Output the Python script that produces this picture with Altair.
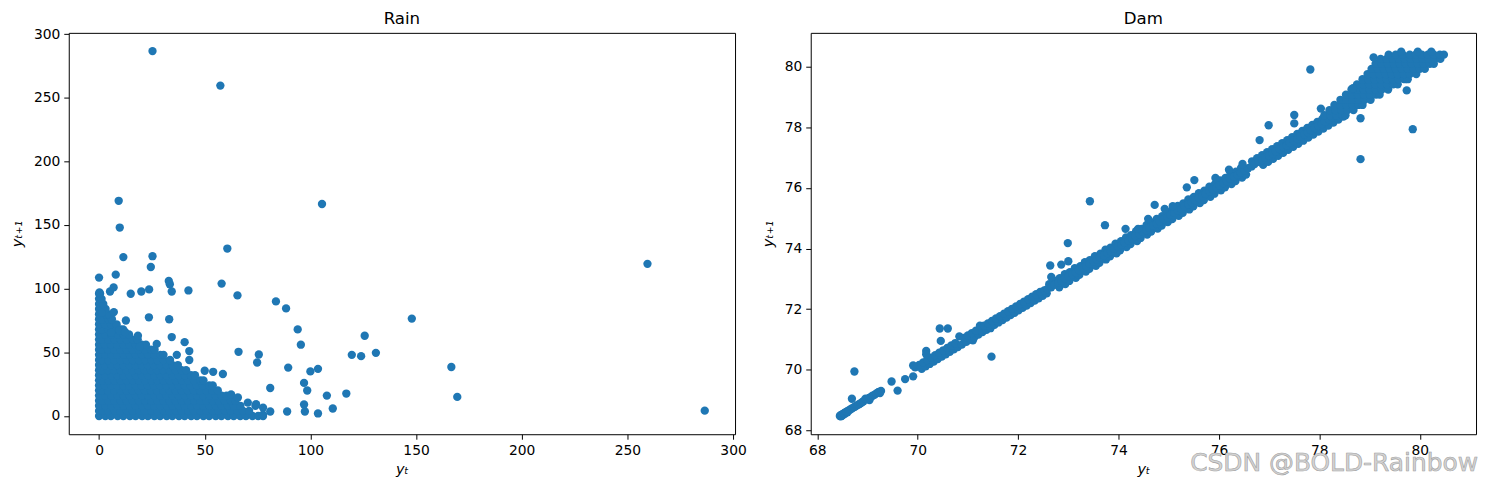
import altair as alt
import pandas as pd

FONT = "DejaVu Sans"
BLUE = "#1f77b4"

# ---------------- Rain lag plot ----------------
rain_ticks = [0, 50, 100, 150, 200, 250, 300]
rain_domain = [-14.33, 300.93]

# dense cluster, read row by row: y_{t+1} of the row, and the y_t values on it
rain_row_y = [0, 4, 8, 12, 16, 20, 24, 28, 32, 36, 40, 44, 48, 52, 56, 60,
              64, 68, 72, 76, 80, 84, 88, 92, 96]
rain_row_x = [
    [0, 3.0, 5.6, 8.8, 11.5, 14.6, 17.3, 20.4, 23.1, 26.2, 28.9, 32.0, 34.7, 37.8, 40.5, 43.6,
     46.3, 49.4, 52.1, 55.2, 57.9, 61.0, 63.7, 66.8, 69.5, 72.6, 75.3, 77.6],
    [0, 1.6, 4.3, 7.4, 10.1, 13.2, 15.9, 19.0, 21.7, 24.8, 27.5, 30.6, 33.3, 36.4, 39.1, 42.2,
     44.9, 48.0, 50.7, 53.8, 56.5, 59.6, 62.3, 65.4, 68.1, 71.0],
    [0, 3.0, 5.8, 8.8, 11.6, 14.6, 17.4, 20.4, 23.2, 26.2, 29.0, 32.0, 34.8, 37.8, 40.6, 43.6,
     46.4, 49.4, 52.2, 55.2, 58.0, 61.0, 63.8, 66.9],
    [0, 1.5, 4.4, 7.3, 10.2, 13.1, 16.0, 18.9, 21.8, 24.7, 27.6, 30.5, 33.4, 36.3, 39.2, 42.1,
     45.0, 47.9, 50.8, 53.7, 56.6, 59.5, 62.4, 64.5],
    [0, 2.9, 5.8, 8.7, 11.6, 14.5, 17.4, 20.3, 23.2, 26.1, 29.0, 31.9, 34.8, 37.7, 40.6, 43.5,
     46.4, 49.3, 52.2, 55.1, 58.0, 60.3],
    [0, 1.4, 4.3, 7.2, 10.1, 13.0, 15.9, 18.8, 21.7, 24.6, 27.5, 30.4, 33.3, 36.2, 39.1, 42.0,
     44.9, 47.8, 50.7, 53.6, 56.2],
    [0, 2.8, 5.7, 8.6, 11.5, 14.4, 17.3, 20.2, 23.1, 26.0, 28.9, 31.8, 34.7, 37.6, 40.5, 43.4,
     46.3, 49.2, 52.1, 53.8],
    [0, 1.5, 4.4, 7.3, 10.2, 13.1, 16.0, 18.9, 21.8, 24.7, 27.6, 30.5, 33.4, 36.3, 39.2, 42.1,
     45.0, 47.9, 49.4],
    [0, 2.9, 5.8, 8.7, 11.6, 14.5, 17.4, 20.3, 23.2, 26.1, 29.0, 31.9, 34.8, 37.7, 40.6, 43.5, 45.4],
    [0, 1.4, 4.3, 7.2, 10.1, 13.0, 15.9, 18.8, 21.7, 24.6, 27.5, 30.4, 33.3, 36.2, 39.1, 41.2],
    [0, 2.8, 5.7, 8.6, 11.5, 14.4, 17.3, 20.2, 23.1, 26.0, 28.9, 31.8, 34.7, 37.3],
    [0, 1.5, 4.4, 7.3, 10.2, 13.1, 16.0, 18.9, 21.8, 24.7, 27.6, 30.5, 33.6],
    [0, 2.9, 5.8, 8.7, 11.6, 14.5, 17.4, 20.3, 23.2, 26.1, 29.0, 30.5],
    [0, 1.4, 4.3, 7.2, 10.1, 13.0, 15.9, 18.8, 21.7, 24.6, 26.3],
    [0, 2.8, 5.7, 8.6, 11.5, 14.4, 17.3, 20.2, 22.2],
    [0, 1.5, 4.4, 7.3, 10.2, 13.1, 16.0, 18.3],
    [0, 2.9, 5.8, 8.7, 11.6, 14.2],
    [0, 1.4, 4.3, 7.2, 10.1, 11.4],
    [0, 2.8, 5.7, 8.3],
    [0, 1.5, 4.4, 6.1],
    [0, 2.9, 4.3],
    [0, 1.4, 3.1],
    [0, 2.0],
    [0, 1.2],
    [0, 0.5],
]

# scattered (y_t, y_{t+1}) pairs
rain_x = [25.3, 286.6, 57.4, 259.5, 9.3, 9.8, 105.5, 60.7, 11.5, 25.3, 24.5, 7.9, 0.0, 0.2,
          5.2, 6.9, 15.0, 20.0, 23.7, 33.0, 33.5, 34.4, 42.3, 58.0, 65.5, 83.7, 88.5, 148.0,
          94.0, 1.3, 7.0, 12.7, 23.6, 33.2, 5.7, 9.6, 12.3, 18.4, 34.4, 27.3, 19.3, 40.5,
          42.7, 42.7, 36.8, 66.0, 75.6, 74.8, 125.7, 95.5, 119.6, 124.0, 131.0, 89.5, 100.0,
          103.6, 166.7, 169.5, 97.0, 98.5, 81.0, 107.8, 117.0, 110.6, 103.6, 89.0, 97.4, 97.0,
          74.0, 77.6, 81.0, 77.6, 50.0, 54.0, 58.6, 62.5, 65.7, 70.4, 74.3]
rain_y = [286.6, 4.2, 259.5, 119.5, 169.0, 148.0, 166.5, 131.5, 124.8, 125.5, 117.0, 111.0,
          108.7, 97.0, 97.8, 101.0, 96.0, 97.8, 99.4, 106.0, 103.5, 97.8, 98.6, 104.0, 94.7,
          90.0, 84.5, 76.5, 68.0, 81.0, 81.6, 75.0, 77.5, 76.0, 65.5, 67.3, 66.0, 63.0, 62.0,
          56.6, 54.3, 58.0, 51.0, 44.0, 48.0, 50.4, 48.3, 42.0, 63.0, 56.0, 48.0, 47.0, 49.6,
          38.0, 35.0, 37.0, 38.5, 15.0, 26.0, 20.0, 22.0, 16.0, 17.6, 5.9, 2.0, 3.5, 3.5, 9.0,
          8.0, 6.6, 3.5, 1.0, 35.5, 34.7, 33.0, 17.0, 14.5, 10.5, 9.2]

# ---------------- Dam lag plot ----------------
dam_ticks = [68, 70, 72, 74, 76, 78, 80]
dam_domain = [67.87, 81.12]

# consecutive dam levels (each run gives pairs level_t -> level_t+1)
dam_run_1 = [68.45, 68.47, 68.46, 68.49, 68.48, 68.51, 68.50, 68.53, 68.55, 68.54, 68.57,
             68.60, 68.59, 68.62, 68.65, 68.68, 68.71, 68.74, 68.77, 68.80, 68.83, 68.86,
             68.89, 68.92, 68.96, 69.04, 69.00, 69.03, 69.07, 69.10, 69.14, 69.17, 69.21,
             69.25, 69.23, 69.27, 69.30]
dam_run_2 = [69.95, 70.08, 70.03, 70.16, 70.11, 70.24, 70.19, 70.32, 70.27, 70.40, 70.35,
             70.48, 70.43, 70.56, 70.51, 70.64, 70.59, 70.72, 70.67, 70.80, 70.75, 70.88,
             70.83, 71.10, 70.97, 70.92, 71.05, 71.00, 71.13, 71.08, 71.21, 71.16, 71.29,
             71.24, 71.45, 71.37, 71.32, 71.45, 71.40, 71.53, 71.48, 71.61, 71.56, 71.69,
             71.64, 71.77, 71.72, 71.85, 71.80, 71.93, 71.88, 72.01, 71.96, 72.09, 72.04,
             72.17, 72.12, 72.25, 72.20, 72.33, 72.28, 72.41, 72.36, 72.49, 72.44, 72.57,
             72.52, 72.62]
dam_run_3 = [72.62, 72.82, 72.72, 72.94, 72.83, 73.02, 72.93, 73.15, 73.03, 73.22, 73.13,
             73.35, 73.24, 73.42, 73.33, 73.55, 73.43, 73.62, 73.53, 73.75, 73.64, 73.83,
             73.74, 73.96, 73.84, 74.03, 73.94, 74.16, 74.05, 74.24, 74.15, 74.37, 74.25,
             74.44, 74.35, 74.57, 74.46, 74.65, 74.56, 74.78, 74.66, 74.86, 74.76, 74.98,
             74.87, 75.07, 74.97, 75.20, 75.08, 75.28, 75.18, 75.41, 75.29, 75.49, 75.39,
             75.62, 75.50, 75.70, 75.60, 75.83, 75.71, 75.91, 75.81, 76.04, 75.92, 76.12,
             76.02, 76.25, 76.13, 76.33, 76.23, 76.46, 76.34, 76.54, 76.44, 76.66]
dam_run_4 = [76.66, 76.88, 76.76, 76.98, 76.86, 77.08, 76.96, 77.18, 77.06, 77.28, 77.16,
             77.38, 77.26, 77.48, 77.36, 77.58, 77.46, 77.68, 77.56, 77.78, 77.66, 77.88,
             77.76, 77.98, 77.86, 78.08, 77.96, 78.18, 78.06, 78.28, 78.16, 78.38, 78.26,
             78.48, 78.36, 78.58]
dam_run_5 = [72.58, 72.66, 72.72, 72.80, 72.87, 72.93, 73.01, 73.08, 73.15, 73.21, 73.29,
             73.36, 73.42, 73.50, 73.57, 73.63, 73.71, 73.78, 73.85, 73.91, 73.99, 74.06,
             74.12, 74.20, 74.27, 74.33, 74.41, 74.48, 74.55, 74.61, 74.69, 74.76, 74.82,
             74.90, 74.97, 75.03, 75.11, 75.18, 75.25, 75.31, 75.39, 75.46, 75.52, 75.60,
             75.67, 75.73, 75.81, 75.88, 75.95, 76.01, 76.09, 76.16, 76.22, 76.30, 76.37,
             76.43, 76.51, 76.58, 76.65, 76.71, 76.79, 76.86, 76.92, 77.00, 77.07, 77.13,
             77.21, 77.28, 77.35, 77.41, 77.49, 77.56, 77.62, 77.70, 77.77, 77.83, 77.91,
             77.98, 78.05, 78.11, 78.19, 78.26, 78.32, 78.40, 78.47, 78.53]

# dense cloud near full supply, row by row: y_{t+1} of the row and the y_t values on it
dam_cloud_y = [78.40, 78.57, 78.74, 78.91, 79.08, 79.25, 79.42, 79.59, 79.76, 79.93,
               80.10, 80.26, 80.40, 80.50]
dam_cloud_x = [
    [78.10, 78.22, 78.34, 78.46, 78.52],
    [78.20, 78.32, 78.44, 78.56, 78.68],
    [78.30, 78.42, 78.54, 78.66, 78.78, 78.86],
    [78.42, 78.54, 78.66, 78.78, 78.90, 79.02],
    [78.53, 78.65, 78.77, 78.89, 79.01, 79.13, 79.20],
    [78.64, 78.76, 78.88, 79.00, 79.12, 79.24, 79.37],
    [78.75, 78.87, 78.99, 79.11, 79.23, 79.35, 79.47, 79.56],
    [78.86, 78.98, 79.10, 79.22, 79.34, 79.46, 79.58, 79.70, 79.76],
    [78.96, 79.08, 79.20, 79.32, 79.44, 79.56, 79.68, 79.80, 79.93],
    [79.04, 79.16, 79.28, 79.40, 79.52, 79.64, 79.76, 79.88, 80.00, 80.10],
    [79.12, 79.24, 79.36, 79.48, 79.60, 79.72, 79.84, 79.96, 80.08, 80.20, 80.28],
    [79.22, 79.34, 79.46, 79.58, 79.70, 79.82, 79.94, 80.06, 80.18, 80.30, 80.41],
    [79.38, 79.52, 79.66, 79.80, 79.92, 80.04, 80.16, 80.28, 80.40, 80.48],
    [79.63, 79.96, 80.23],
]

# isolated (y_t, y_{t+1}) pairs
dam_x = [68.74, 68.69, 69.48, 69.60, 69.75, 69.91, 69.91, 70.17, 70.17, 70.46, 70.44, 70.60,
         71.47, 72.64, 72.86, 73.00, 72.99, 72.66, 73.43, 73.73, 74.14, 74.39, 74.59, 74.72,
         74.92, 75.08, 75.36, 75.51, 75.93, 76.20, 76.47, 76.81, 76.99, 77.50, 77.50, 78.03,
         77.82, 78.67, 79.08, 79.74, 79.86, 78.82, 78.82]
dam_y = [69.94, 69.04, 69.61, 69.31, 69.69, 69.78, 70.14, 70.62, 70.51, 70.95, 71.36, 71.36,
         70.43, 73.44, 73.47, 73.58, 74.18, 73.06, 75.56, 74.77, 74.65, 74.65, 74.98, 75.44,
         75.31, 75.40, 76.02, 76.26, 76.33, 76.60, 76.79, 77.58, 78.07, 78.41, 78.13, 78.62,
         79.91, 79.29, 80.31, 79.22, 77.94, 78.30, 76.95]

titles = ["Rain", "Dam"]
watermark = ["CSDN @BOLD-Rainbow"]

# ---------------- tables ----------------
def rows_table(ys, xs_rows):
    recs = []
    for yv, xs in zip(ys, xs_rows):
        for xv in xs:
            recs.append({"x": xv, "y": yv})
    return pd.DataFrame(recs)


def lag_table(run):
    return pd.DataFrame({"x": run[:-1], "y": run[1:]})


rain_df = pd.concat([rows_table(rain_row_y, rain_row_x),
                     pd.DataFrame({"x": rain_x, "y": rain_y})], ignore_index=True)
dam_df = pd.concat([lag_table(dam_run_1), lag_table(dam_run_2), lag_table(dam_run_3),
                    lag_table(dam_run_4), lag_table(dam_run_5),
                    rows_table(dam_cloud_y, dam_cloud_x),
                    pd.DataFrame({"x": dam_x, "y": dam_y})], ignore_index=True)

W_L, W_R, H = 669, 668, 403


def axis(ticks, title, tx, ty):
    return alt.Axis(values=ticks, title=title, grid=False, domain=False, ticks=True,
                    tickSize=5, tickWidth=1, tickColor="black",
                    labelFont=FONT, labelFontSize=13.9, labelColor="black", labelPadding=4,
                    labelFlush=False, labelOverlap=False,
                    titleFont=FONT, titleFontSize=14.5, titleFontStyle="italic",
                    titleFontWeight="normal", titleColor="black",
                    titleX=tx, titleY=ty, titleBaseline="middle")


def panel(df, domain, ticks, width, name, ytitle_x):
    pts = alt.Chart(df).mark_circle(size=70, color=BLUE, opacity=1).encode(
        x=alt.X("x:Q", scale=alt.Scale(domain=domain, nice=False, zero=False),
                axis=axis(ticks, "yₜ", width / 2, 35)),
        y=alt.Y("y:Q", scale=alt.Scale(domain=domain, nice=False, zero=False),
                axis=axis(ticks, "yₜ₊₁", ytitle_x, H / 2)),
    )
    ttl = alt.Chart(pd.DataFrame({"t": [name]})).mark_text(
        align="center", baseline="bottom", font=FONT, fontSize=16.7, color="black").encode(
        text="t:N", x=alt.value(width / 2), y=alt.value(-5))
    return pts, ttl


l_pts, l_ttl = panel(rain_df, rain_domain, rain_ticks, W_L, titles[0], -51)
r_pts, r_ttl = panel(dam_df, dam_domain, dam_ticks, W_R, titles[1], -42)

wm = alt.Chart(pd.DataFrame({"t": watermark})).mark_text(
    align="left", baseline="middle", font=FONT, fontSize=25, color="#d4d4d4",
    stroke="#a0a0a0", strokeWidth=0.6).encode(
    text="t:N", x=alt.value(381), y=alt.value(432))

left = alt.layer(l_pts, l_ttl).properties(width=W_L, height=H)
right = alt.layer(r_pts, r_ttl, wm).properties(width=W_R, height=H)

chart = alt.hconcat(left, right, spacing=76, bounds="flush").configure_view(
    stroke="black", strokeWidth=1).properties(
    padding={"left": 1, "top": 1, "right": 2, "bottom": 0})

chart.save("out.html", embed_options={"renderer": "svg", "actions": False})
